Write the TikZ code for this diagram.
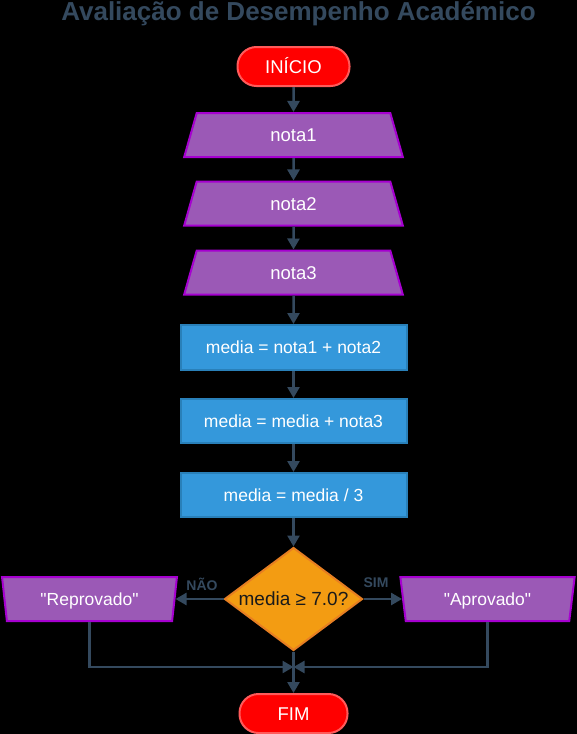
\documentclass[tikz,border=0pt]{standalone}
\usepackage{fontspec}
\setmainfont{Liberation Sans}[Ligatures=TeXOff]
\usetikzlibrary{shapes.geometric,arrows.meta}
\definecolor{slate}{HTML}{34495E}
\definecolor{purpfill}{HTML}{9B59B6}
\definecolor{purpline}{HTML}{A600D0}
\definecolor{bluefill}{HTML}{3498DB}
\definecolor{blueline}{HTML}{2980B9}
\definecolor{orfill}{HTML}{F39C12}
\definecolor{orline}{HTML}{E67E22}
\definecolor{redfill}{HTML}{FF0000}
\definecolor{redline}{HTML}{FF5A5A}
\definecolor{darktext}{HTML}{1A1A1A}
\tikzset{
  txt/.style={text=white, font=\fontsize{18.5}{22}\selectfont, text height=13pt, text depth=0pt, inner sep=0pt},
  smalltxt/.style={font=\fontsize{17.5}{21}\selectfont, text height=12.5pt},
  term/.style={txt, draw=redline, fill=redfill, line width=2pt, rectangle, rounded corners=19pt, minimum height=39pt},
  inbox/.style={txt, draw=purpline, fill=purpfill, line width=2pt, trapezium, trapezium left angle=77, trapezium right angle=77, trapezium stretches=true, minimum width=219pt, minimum height=44pt},
  outbox/.style={txt, smalltxt, draw=purpline, fill=purpfill, line width=2pt, trapezium, trapezium left angle=103, trapezium right angle=103, trapezium stretches=true, minimum width=175pt, minimum height=44pt},
  proc/.style={txt, smalltxt, draw=blueline, fill=bluefill, line width=2pt, rectangle, minimum width=226pt, minimum height=44pt},
  decis/.style={txt, text=darktext, font=\fontsize{19}{23}\selectfont, text height=13.5pt, draw=orline, fill=orfill, line width=2pt, diamond, minimum width=138pt, minimum height=103pt},
  conn/.style={draw=slate, line width=2.5pt, -{Triangle[length=11pt,width=12pt]}},
  lbl/.style={text=slate, font=\bfseries\fontsize{14}{16}\selectfont, inner sep=0pt}
}
\begin{document}
\begin{tikzpicture}[x=1pt,y=-1pt]
\fill[black] (0,0) rectangle (577,734);
\useasboundingbox (0,0) rectangle (577,734);
\node[text=slate, font=\bfseries\fontsize{26}{30}\selectfont, anchor=base, inner sep=0pt] (title) at (298.5,20) {Avaliação de Desempenho Académico};
\node[term, minimum width=112pt] (start) at (293.5,66.5) {INÍCIO};
\node[inbox] (n1) at (293.5,135) {nota1};
\node[inbox] (n2) at (293.5,203.5) {nota2};
\node[inbox] (n3) at (293.5,272.5) {nota3};
\node[proc, minimum height=45pt] (p1) at (293.5,347.5) {media = nota1 + nota2};
\node[proc] (p2) at (293.5,421) {media = media + nota3};
\node[proc] (p3) at (293.5,495) {media = media / 3};
\node[decis] (dec) at (293.5,599) {\makebox[0pt]{media ≥ 7.0?}};
\node[outbox] (rep) at (89.5,599) {"Reprovado"};
\node[outbox] (apr) at (487.5,599) {"Aprovado"};
\node[term, minimum width=108pt] (fim) at (293.5,713.5) {FIM};
\node[lbl] (nao) at (202,584) {NÃO};
\node[lbl] (sim) at (376,583) {SIM};
\coordinate (merge) at (293.5,667);
\draw[conn] (start) -- (n1);
\draw[conn] (n1) -- (n2);
\draw[conn] (n2) -- (n3);
\draw[conn] (n3) -- (p1);
\draw[conn] (p1) -- (p2);
\draw[conn] (p2) -- (p3);
\draw[conn] (p3) -- (dec);
\draw[conn] (dec) -- (rep);
\draw[conn] (dec) -- (apr);
\draw[conn] (rep.south) |- (merge);
\draw[conn] (apr.south) |- (merge);
\draw[conn] (dec) -- (fim);
\end{tikzpicture}
\end{document}
